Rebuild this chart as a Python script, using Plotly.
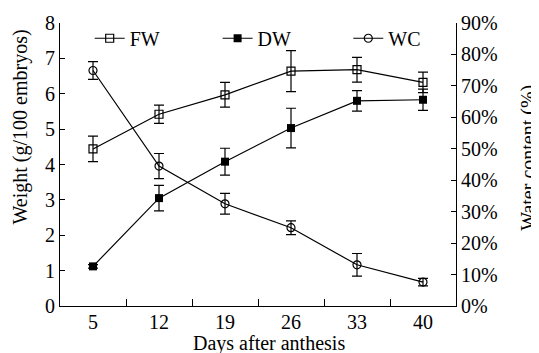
import plotly.graph_objects as go

days = ["5", "12", "19", "26", "33", "40"]
fw = [4.44, 5.42, 5.97, 6.64, 6.68, 6.32]
fw_err = [0.36, 0.26, 0.35, 0.58, 0.35, 0.29]
dw = [1.12, 3.05, 4.08, 5.03, 5.80, 5.83]
dw_err = [0.05, 0.36, 0.38, 0.56, 0.29, 0.30]
wc = [74.9, 44.5, 32.5, 24.9, 13.1, 7.6]
wc_err = [2.8, 4.0, 3.3, 2.2, 3.6, 1.2]

FONT = "Liberation Serif, Times New Roman, serif"

def err(vals):
    return dict(type="data", array=vals, visible=True, color="black", thickness=1.2, width=5)

fig = go.Figure()
fig.add_trace(go.Scatter(x=days, y=fw, name="FW", mode="lines+markers", legend="legend",
                         line=dict(color="black", width=1.2),
                         marker=dict(symbol="square-open", size=8, color="black", line=dict(width=1.2)),
                         error_y=err(fw_err)))
fig.add_trace(go.Scatter(x=days, y=dw, name="DW", mode="lines+markers", legend="legend2",
                         line=dict(color="black", width=1.2),
                         marker=dict(symbol="square", size=8, color="black"),
                         error_y=err(dw_err)))
fig.add_trace(go.Scatter(x=days, y=wc, name="WC", mode="lines+markers", yaxis="y2", legend="legend3",
                         line=dict(color="black", width=1.2),
                         marker=dict(symbol="circle-open", size=8, color="black", line=dict(width=1.2)),
                         error_y=err(wc_err)))

def leg(x):
    return dict(orientation="h", x=x, y=1.015, xanchor="left", yanchor="top",
                bgcolor="rgba(0,0,0,0)", font=dict(size=20))

# the page body has an 8px margin, so the figure is sized to fit the 539x353 window
fig.update_layout(
    width=531, height=345,
    margin=dict(l=52, r=83, t=11, b=47),
    paper_bgcolor="white", plot_bgcolor="white",
    font=dict(family=FONT, size=20, color="black"),
    showlegend=True,
    legend=leg(0.075), legend2=leg(0.398), legend3=leg(0.728),
    xaxis=dict(type="category", showline=True, linecolor="black", linewidth=1.2,
               ticks="inside", tickson="boundaries", ticklen=7, tickcolor="black",
               ticklabelstandoff=-2,
               showgrid=False, zeroline=False, range=[-0.5, 5.5], automargin=False),
    yaxis=dict(range=[0, 8], dtick=1, showline=True, linecolor="black", linewidth=1.2,
               ticks="inside", ticklen=5, tickcolor="black", showgrid=False, zeroline=False,
               automargin=False),
    yaxis2=dict(range=[0, 90], dtick=10, ticksuffix="%", overlaying="y", side="right",
                showline=True, linecolor="black", linewidth=1.2,
                ticks="inside", ticklen=5, tickcolor="black", showgrid=False, zeroline=False,
                automargin=False),
    annotations=[
        dict(text="Weight (g/100 embryos)", xref="paper", yref="paper", x=-0.101, y=0.631,
             textangle=-90, showarrow=False, xanchor="center", yanchor="middle", font=dict(size=20)),
        dict(text="Water content (%)", xref="paper", yref="paper", x=1.184, y=0.523,
             textangle=-90, showarrow=False, xanchor="center", yanchor="middle", font=dict(size=20)),
        dict(text="Days after anthesis", xref="paper", yref="paper", x=0.529, y=-0.1325,
             showarrow=False, xanchor="center", yanchor="middle", font=dict(size=20)),
    ],
)

fig.write_html("out.html")
